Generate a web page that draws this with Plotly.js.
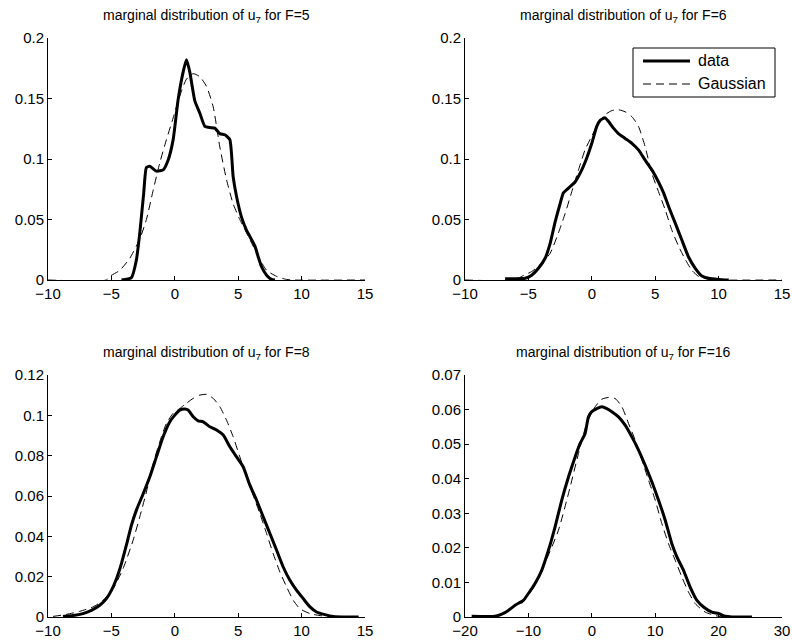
<!DOCTYPE html>
<html>
<head>
<meta charset="utf-8">
<script src="https://cdn.plot.ly/plotly-3.0.1.min.js"></script>
<style>html,body{margin:0;padding:0;background:#fff;}#chart{width:792px;height:641px;}</style>
</head>
<body>
<div id="chart"></div>
<script>
// ---- Data ----
const titles = ["F=5", "F=6", "F=8", "F=16"];
const legendLabels = ["data", "Gaussian"];

// F=5
const x5Data = [-4.2,-3.42,-3.03,-2.76,-2.45,-2.24,-1.97,-1.45,-0.92,-0.53,-0.13,0.26,0.66,0.92,1.18,1.58,1.97,2.37,2.76,3.16,3.55,3.95,4.34,4.6,4.87,5.26,5.66,5.92,6.32,6.58,6.84,7.24,7.63,7.9];
const y5Data = [0,0.002,0.0165,0.039,0.072,0.093,0.094,0.090,0.091,0.099,0.116,0.149,0.172,0.182,0.172,0.148,0.138,0.127,0.126,0.1255,0.121,0.120,0.116,0.0855,0.069,0.052,0.041,0.036,0.028,0.019,0.011,0.004,0.0005,0];
const x5Gauss = [-10,-5.4,-5.13,-4.34,-3.55,-2.76,-2.24,-1.71,-1.18,-0.66,-0.13,0.39,0.92,1.45,1.97,2.5,3.03,3.55,4.08,4.6,5.13,5.66,6.18,6.71,7.24,8.03,8.8,9.3,15];
const y5Gauss = [0,0,0.003,0.008,0.018,0.034,0.050,0.074,0.097,0.116,0.134,0.152,0.166,0.1705,0.168,0.160,0.143,0.110,0.083,0.063,0.050,0.039,0.028,0.017,0.008,0.003,0.0005,0,0];

// F=6
const x6Data = [-6.84,-5.26,-4.74,-4.21,-3.68,-3.29,-2.89,-2.5,-2.24,-1.84,-1.32,-0.79,-0.39,0,0.39,0.66,1.05,1.32,1.71,2.1,2.63,3.16,3.68,4.21,4.74,5.26,5.66,6.05,6.58,7.1,7.63,8.16,8.68,9.21,10.0,10.8];
const y6Data = [0.001,0.0014,0.004,0.0097,0.018,0.030,0.048,0.063,0.072,0.076,0.081,0.091,0.101,0.113,0.127,0.132,0.134,0.131,0.1255,0.121,0.117,0.113,0.1075,0.099,0.091,0.081,0.072,0.061,0.047,0.033,0.019,0.0097,0.0033,0.0014,0.0005,0];
const x6Gauss = [-10,-6,-5.53,-4.74,-3.95,-3.29,-2.63,-2.1,-1.58,-1.05,-0.53,0,0.53,1.05,1.58,2.1,2.63,3.16,3.68,4.21,4.74,5.26,5.79,6.32,6.84,7.37,7.89,8.42,9.2,9.8,15];
const y6Gauss = [0,0,0.003,0.007,0.014,0.022,0.039,0.055,0.073,0.091,0.1076,0.119,0.130,0.1366,0.140,0.1407,0.139,0.135,0.127,0.110,0.088,0.073,0.058,0.041,0.028,0.017,0.008,0.003,0.0005,0,0];

// F=8
const x8Data = [-8.82,-8.03,-7.24,-6.58,-5.92,-5.39,-5.0,-4.6,-4.21,-3.82,-3.42,-3.03,-2.5,-1.97,-1.45,-0.92,-0.39,0,0.39,0.79,1.05,1.45,1.84,2.24,2.76,3.29,3.82,4.34,4.87,5.39,5.92,6.45,6.97,7.5,8.03,8.55,9.08,9.61,10.13,10.66,11.18,11.84,12.5,13.55,14.5];
const y8Data = [0.0003,0.0007,0.0017,0.0033,0.0058,0.0091,0.0132,0.019,0.0265,0.0356,0.0455,0.053,0.061,0.0695,0.0794,0.0894,0.0968,0.1001,0.1026,0.1031,0.1026,0.0993,0.0973,0.0968,0.0943,0.0927,0.0902,0.0844,0.0794,0.0745,0.0654,0.0579,0.0497,0.0414,0.0331,0.0248,0.0182,0.0132,0.0091,0.005,0.0025,0.0012,0.0003,0,0];
const x8Gauss = [-9.6,-8.55,-7.5,-6.45,-5.66,-4.87,-4.08,-3.29,-2.76,-2.24,-1.71,-1.18,-0.66,-0.13,0.39,0.92,1.45,1.97,2.5,3.03,3.55,4.08,4.6,5.13,5.66,6.18,6.71,7.24,7.76,8.29,8.82,9.34,9.87,10.66,11.45,12.5,13.8];
const y8Gauss = [0.0003,0.0013,0.0028,0.005,0.0083,0.014,0.024,0.038,0.0497,0.062,0.076,0.087,0.096,0.101,0.1034,0.106,0.1084,0.110,0.1104,0.1084,0.1043,0.0976,0.0894,0.0794,0.0695,0.0604,0.0513,0.0414,0.0314,0.0223,0.0149,0.0083,0.0041,0.0017,0.0007,0.0002,0];

// F=16
const x16Data = [-18.95,-15.26,-14.2,-13.16,-12.1,-10.8,-10,-8.95,-7.9,-6.84,-5.79,-4.74,-3.68,-2.63,-1.84,-1.05,-0.53,0,0.79,1.58,2.37,3.16,4.21,5.26,6.32,7.37,8.42,9.47,10.53,11.58,12.63,13.42,14.47,15.5,16.58,17.63,18.95,20,21.05,22.1,25.26];
const y16Data = [0.0002,0.0002,0.0008,0.0019,0.0034,0.0048,0.0068,0.0097,0.0135,0.0193,0.0261,0.0338,0.0405,0.0463,0.0502,0.0531,0.0579,0.0594,0.0603,0.0608,0.0603,0.0594,0.0579,0.0555,0.0521,0.0483,0.0439,0.0391,0.0338,0.028,0.0212,0.0174,0.0135,0.0087,0.0048,0.0029,0.0014,0.001,0.0002,0,0];
const x16Gauss = [-11.05,-8.95,-6.84,-5.26,-3.68,-2.1,-0.79,0.53,1.58,2.63,3.68,4.74,5.79,6.84,7.9,8.95,10,11.05,12.1,13.16,14.2,15.26,16.3,17.9,20,22.1];
const y16Gauss = [0.0039,0.0092,0.0179,0.0251,0.0357,0.0473,0.056,0.0608,0.063,0.0635,0.0632,0.0608,0.056,0.0512,0.0454,0.0396,0.0338,0.027,0.0212,0.0164,0.0116,0.0072,0.0039,0.0014,0.0002,0];

const xRanges = [[-10,15],[-10,15],[-10,15],[-20,30]];
const xDticks = [5,5,5,10];
const yRanges = [[0,0.2],[0,0.2],[0,0.12],[0,0.07]];
const yDticks = [0.05,0.05,0.02,0.01];

// ---- Build ----
const series = [
  [x5Data,y5Data,x5Gauss,y5Gauss],
  [x6Data,y6Data,x6Gauss,y6Gauss],
  [x8Data,y8Data,x8Gauss,y8Gauss],
  [x16Data,y16Data,x16Gauss,y16Gauss]
];
const W = 792, H = 641;
const px = v => v / W, py = v => 1 - v / H;
const xDom = [[px(48),px(365)],[px(465),px(782)],[px(48),px(365)],[px(465),px(782)]];
const yDom = [[py(280),py(38)],[py(280),py(38)],[py(617),py(375)],[py(617),py(375)]];
const fam = "Liberation Sans, Arial, Helvetica, sans-serif";
const font = {family: fam, size: 15, color: "#000"};
const dashStyle = "8px,5px";

const traces = [];
const layout = {
  width: W, height: H,
  margin: {l:0,r:0,t:0,b:0},
  paper_bgcolor: "#fff", plot_bgcolor: "#fff",
  font: font,
  showlegend: false,
  annotations: [],
  shapes: []
};

series.forEach((s, i) => {
  const k = i === 0 ? "" : String(i+1);
  const xa = "x" + k, ya = "y" + k;
  traces.push({x: s[2], y: s[3], xaxis: xa, yaxis: ya, type: "scatter", mode: "lines",
    name: legendLabels[1],
    line: {color: "#000", width: 1, dash: dashStyle, shape: "spline", smoothing: 0.6}});
  traces.push({x: s[0], y: s[1], xaxis: xa, yaxis: ya, type: "scatter", mode: "lines",
    name: legendLabels[0],
    line: {color: "#000", width: 3, shape: "spline", smoothing: 0.5}});
  const axCommon = {showgrid: false, zeroline: false, showline: true, linecolor: "#000", linewidth: 1,
    ticks: "inside", ticklen: 4, tickcolor: "#000", tickfont: font, fixedrange: true};
  layout["xaxis" + k] = Object.assign({}, axCommon, {domain: xDom[i], range: xRanges[i], dtick: xDticks[i], tick0: 0, anchor: ya});
  layout["yaxis" + k] = Object.assign({}, axCommon, {domain: yDom[i], range: yRanges[i], dtick: yDticks[i], tick0: 0, anchor: xa});
  layout.annotations.push({
    text: "marginal distribution of u<sub>7</sub> for " + titles[i],
    xref: "paper", yref: "paper",
    x: (xDom[i][0] + xDom[i][1]) / 2, y: yDom[i][1], yshift: 22,
    xanchor: "center", yanchor: "middle", showarrow: false,
    font: {family: fam, size: 14, color: "#000"}
  });
});

// Legend box (MATLAB-style) in the F=6 panel
layout.shapes.push({type: "rect", xref: "paper", yref: "paper",
  x0: px(633), x1: px(775), y0: py(97), y1: py(48),
  line: {color: "#000", width: 1}, fillcolor: "#fff", layer: "above"});
layout.shapes.push({type: "line", xref: "paper", yref: "paper",
  x0: px(643), x1: px(690), y0: py(61), y1: py(61),
  line: {color: "#000", width: 3}, layer: "above"});
layout.shapes.push({type: "line", xref: "paper", yref: "paper",
  x0: px(643), x1: px(690), y0: py(84), y1: py(84),
  line: {color: "#000", width: 1, dash: dashStyle}, layer: "above"});
legendLabels.forEach((lab, j) => {
  layout.annotations.push({text: lab, xref: "paper", yref: "paper",
    x: px(696), y: py(j === 0 ? 60 : 83), xanchor: "left", yanchor: "middle",
    showarrow: false, font: {family: fam, size: 16, color: "#000"}});
});

Plotly.newPlot("chart", traces, layout, {displayModeBar: false, staticPlot: true});
</script>
</body>
</html>
